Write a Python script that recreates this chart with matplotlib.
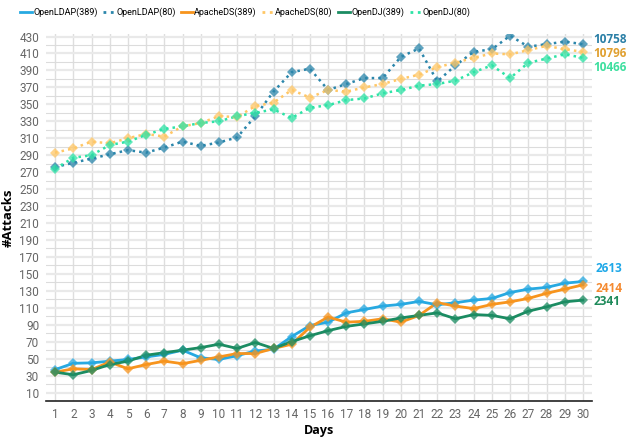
import matplotlib.pyplot as plt
from matplotlib.lines import Line2D
from matplotlib.ticker import MultipleLocator

days = list(range(1, 31))

openldap_389 = [37, 44.5, 45, 47, 49, 52, 55, 60, 51, 49, 53.5, 59, 61, 76, 89,
                93, 104, 108, 112, 114, 117.5, 113.5, 116, 119, 121, 128, 132, 134, 139, 141]
openldap_80 = [276, 281, 286, 291, 296, 293, 299, 306, 301, 305, 311, 336, 365, 388, 392,
               367, 374, 381, 381, 406, 416, 377, 396, 412, 415, 431, 418, 421, 424, 421]
apacheds_389 = [34, 38, 37, 46, 38, 43, 47, 44, 48, 52, 56, 56, 62, 67, 87,
                99, 93, 94, 97, 93, 101, 116, 112, 109, 114, 117, 121, 127, 132, 137]
apacheds_80 = [293, 298, 306, 304, 310, 315, 312, 324, 328, 336, 335, 348, 352, 367, 358,
               367, 365, 370, 374, 380, 385, 394, 399, 405, 410, 409, 414, 419, 415, 412]
opendj_389 = [34, 31, 36, 43, 47, 54, 57, 60, 63, 67, 62, 69, 62, 70, 77,
              83, 88, 91, 94, 98, 101, 104, 97, 102, 101, 97, 106, 111, 117, 119]
opendj_80 = [274, 287, 290, 302, 306, 314, 321, 324, 328, 330, 336, 340, 344, 334, 346,
             349, 355, 357, 363, 367, 372, 374, 378, 388, 396, 381, 399, 404, 409, 405]

labels = ["OpenLDAP(389)", "OpenLDAP(80)", "ApacheDS(389)", "ApacheDS(80)", "OpenDJ(389)", "OpenDJ(80)"]
totals = ["2613", "10758", "2414", "10796", "2341", "10466"]

series = [openldap_389, openldap_80, apacheds_389, apacheds_80, opendj_389, opendj_80]
colors = ["#27a9e1", "#2b86ab", "#f7941d", "#ffc766", "#1b8c62", "#2ee3a6"]
label_colors = ["#1ea8e8", "#2a7fa6", "#f58a30", "#e0a030", "#1e8a5a", "#3ddf9f"]
styles = ["-", ":", "-", ":", "-", ":"]
# pixel offsets of the total labels from the last point
offsets = [(13, 13), (10, 5), (13, -4), (10, -2), (11, -1), (10, -10)]

fig = plt.figure(figsize=(6.28, 4.41), dpi=100)
ax = fig.add_axes([46 / 628, 1 - 401 / 441, 546 / 628, 367 / 441])

for vals, c, ls, lab in zip(series, colors, styles, labels):
    lw = 2.0 if ls == "-" else 1.8
    ax.plot(days, vals, color=c, linestyle=ls, linewidth=lw, label=lab, zorder=3)
    ax.plot(days, vals, linestyle="none", marker="D", markersize=5.5, color=c, alpha=0.75,
            markeredgewidth=0, zorder=4)

for vals, txt, c, off in zip(series, totals, label_colors, offsets):
    ax.annotate(txt, xy=(days[-1], vals[-1]), xytext=off, textcoords="offset pixels",
                color=c, fontsize=8.5, fontweight="bold", family="Open Sans",
                ha="left", va="center", annotation_clip=False)

ax.set_xlim(0.5, 30.5)
ax.set_ylim(0, 433)
ax.set_xticks(days)
ax.yaxis.set_major_locator(MultipleLocator(20))
ax.set_yticks(range(10, 431, 20))
ax.set_yticks(range(0, 431, 10), minor=True)
ax.grid(True, which="major", axis="y", color="#e9e9e9", linewidth=1.6)
ax.grid(True, which="minor", axis="y", color="#dcdcdc", linewidth=0.8)
ax.grid(True, which="major", axis="x", color="#dedede", linewidth=1.0)
ax.set_axisbelow(True)

for s in ["left", "right", "top"]:
    ax.spines[s].set_visible(False)
ax.spines["bottom"].set_color("#222222")
ax.spines["bottom"].set_linewidth(1.2)
ax.tick_params(axis="both", which="both", length=0, labelsize=8.5, labelcolor="#666666")
ax.tick_params(axis="y", pad=5)
ax.tick_params(axis="x", pad=5)
for t in ax.get_xticklabels() + ax.get_yticklabels():
    t.set_family("Roboto")

ax.set_xlabel("Days", fontsize=9, fontweight="bold", family="Open Sans", labelpad=2)
ax.set_ylabel("#Attacks", fontsize=9.5, fontweight="bold", family="Open Sans", labelpad=3)

handles = [Line2D([0], [0], color=c, linestyle=ls, linewidth=2) for c, ls in zip(colors, styles)]
fig.legend(handles, labels, loc="center left", bbox_to_anchor=(20 / 628, 1 - 12 / 441),
           ncol=6, frameon=False, prop={"family": "Roboto", "size": 6.5},
           handlelength=1.3, handletextpad=0.15, columnspacing=0.6, borderaxespad=0,
           borderpad=0)

fig.savefig("out.png", dpi=100)
